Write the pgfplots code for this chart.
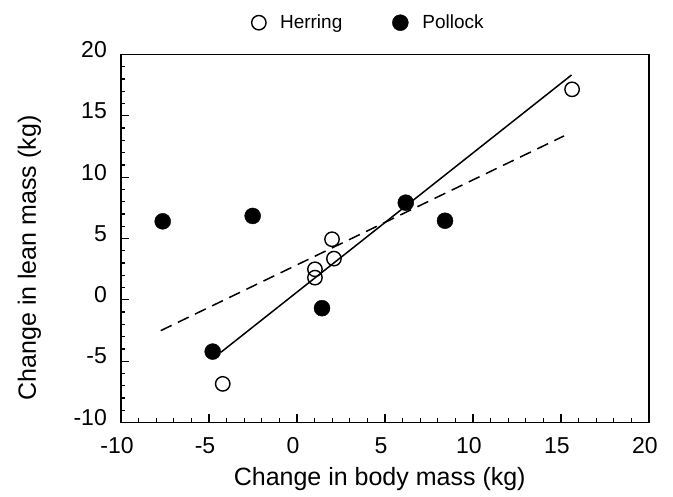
\documentclass[border=0pt]{standalone}
\usepackage{fontspec}
\setmainfont{Liberation Sans}
\usepackage{pgfplots}
\pgfplotsset{compat=1.18}

\begin{document}
\begin{tikzpicture}
  \begin{axis}[
      width=528bp, height=368bp, scale only axis,
      xmin=-10, xmax=20, ymin=-10, ymax=20,
      xtick={-10,-5,...,20}, ytick={-10,-5,...,20},
      minor tick num=4,
      tick align=inside,
      xtick pos=bottom, ytick pos=left,
      major tick length=8bp, minor tick length=4.5bp,
      axis line style={line width=1.6bp},
      every tick/.style={line width=1.3bp, black},
      /pgf/number format/assume math mode=true,
      tick label style={font=\fontsize{23bp}{27bp}\selectfont},
      xticklabel style={anchor=north, inner sep=0pt, yshift=-14.5bp, xshift=-4bp},
      yticklabel style={anchor=east, inner sep=0pt, xshift=-14bp, yshift=5bp},
      label style={font=\fontsize{25bp}{30bp}\selectfont},
      xlabel={Change in body mass (kg)},
      ylabel={Change in lean mass (kg)},
      xlabel style={at={(rel axis cs:0.49,0)}, anchor=base, inner sep=0pt, yshift=-62.5bp},
      % label is rotated, so yshift moves it to the left
      ylabel style={at={(rel axis cs:0,0.447)}, anchor=base, inner sep=0pt, yshift=85bp},
      legend columns=2,
      legend style={at={(rel axis cs:0.469,1)}, anchor=south, yshift=20bp,
        draw=none, fill=none, font=\fontsize{19bp}{23bp}\selectfont,
        /tikz/every odd column/.append style={column sep=12bp},
        /tikz/every even column/.append style={column sep=48bp}},
      legend image code/.code={\draw[#1] plot coordinates {(0bp,0bp)};},
    ]
    % regression lines
    \addplot[forget plot, black, line width=1.5bp] coordinates {(-4.32,-4.27) (15.6,18.33)};
    \addplot[forget plot, black, line width=1.5bp, dash pattern=on 12bp off 7bp]
      coordinates {(-7.74,-2.51) (15.17,13.36)};
    % herring
    \addplot[only marks, mark=o, mark size=7.2bp, black, line width=1.4bp] coordinates {
      (15.63,17.16) (-4.22,-6.85) (1.99,4.94) (2.10,3.36) (1.02,2.49) (1.02,1.81)
    };
    \addlegendentry{Herring}
    % pollock
    \addplot[only marks, mark=*, mark size=8bp, black] coordinates {
      (-7.63,6.40) (-2.52,6.84) (-4.79,-4.22) (1.42,-0.68) (6.18,7.92) (8.41,6.45)
    };
    \addlegendentry{Pollock}
  \end{axis}
  \pgfresetboundingbox
  \path (current axis.south west) ++(-121bp,-74.5bp) rectangle ++(673bp,497bp);
\end{tikzpicture}
\end{document}
